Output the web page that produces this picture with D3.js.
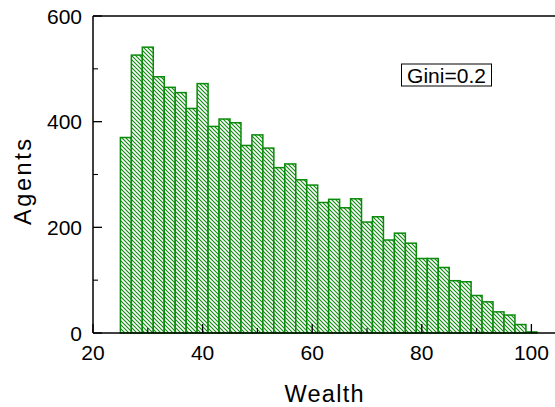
<!DOCTYPE html>
<html><head><meta charset="utf-8">
<script src="https://cdn.jsdelivr.net/npm/d3@7/dist/d3.min.js"></script>
<style>body{margin:0;background:#fff}svg{display:block}</style>
</head><body>
<script>
const binCenters = [26,28,30,32,34,36,38,40,42,44,46,48,50,52,54,56,58,60,62,64,66,68,70,72,74,76,78,80,82,84,86,88,90,92,94,96,98,100];
const agents = [370,526,541,485,465,455,425,472,391,405,398,355,375,350,313,320,290,280,247,253,237,254,210,220,176,189,170,141,141,124,99,97,71,59,40,34,16,2];
const binWidth = 2;
const xTicks = [20,40,60,80,100];
const xMinor = [30,50,70,90];
const yTicks = [0,200,400,600];
const yMinor = [100,300,500];
const giniLabel = "Gini=0.2";

const W=555,H=407;
const svg=d3.select("body").append("svg").attr("width",W).attr("height",H);
const x=d3.scaleLinear().domain([20,105]).range([93,93+85*5.48]);
const y=d3.scaleLinear().domain([0,600]).range([333,16]);
const green="#0a8a0a";

const defs=svg.append("defs");
const pat=defs.append("pattern").attr("id","hatch").attr("patternUnits","userSpaceOnUse")
  .attr("width",4).attr("height",4);
pat.append("rect").attr("width",4).attr("height",4).attr("fill","#fff");
pat.append("path").attr("d","M-1,-1L5,5M-1,3L1,5M3,-1L5,1").attr("stroke",green).attr("stroke-width",1.1);

svg.append("g").selectAll("rect").data(binCenters).join("rect")
  .attr("x",(d)=>x(d-binWidth/2))
  .attr("width",(d)=>x(d+binWidth/2)-x(d-binWidth/2))
  .attr("y",(d,i)=>y(agents[i]))
  .attr("height",(d,i)=>y(0)-y(agents[i]))
  .attr("fill","url(#hatch)").attr("stroke",green).attr("stroke-width",1.5);

const font="Arial, 'Liberation Sans', sans-serif";
// axes
const ax=svg.append("g").attr("stroke","#000").attr("fill","none");
ax.append("line").attr("x1",x(20)).attr("x2",W).attr("y1",y(0)).attr("y2",y(0)).attr("stroke-width",1.5);
ax.append("line").attr("x1",x(20)).attr("x2",W).attr("y1",y(600)).attr("y2",y(600)).attr("stroke-width",1.5);
ax.append("line").attr("x1",x(20)).attr("x2",x(20)).attr("y1",y(0)).attr("y2",y(600)).attr("stroke-width",1.5);

ax.selectAll(".xt").data(xTicks).join("line").attr("x1",d=>x(d)).attr("x2",d=>x(d)).attr("y1",y(0)).attr("y2",y(0)-9).attr("stroke-width",1.3);
ax.selectAll(".xm").data(xMinor).join("line").attr("x1",d=>x(d)).attr("x2",d=>x(d)).attr("y1",y(0)).attr("y2",y(0)-5).attr("stroke-width",1.1);
ax.selectAll(".yt").data(yTicks).join("line").attr("y1",d=>y(d)).attr("y2",d=>y(d)).attr("x1",x(20)).attr("x2",x(20)+9).attr("stroke-width",1.3);
ax.selectAll(".ym").data(yMinor).join("line").attr("y1",d=>y(d)).attr("y2",d=>y(d)).attr("x1",x(20)).attr("x2",x(20)+5).attr("stroke-width",1.1);

svg.append("g").selectAll("text").data(xTicks).join("text")
  .attr("x",d=>x(d)).attr("y",360).attr("text-anchor","middle")
  .attr("font-family",font).attr("font-size",21).text(d=>d);
svg.append("g").selectAll("text").data(yTicks).join("text")
  .attr("x",82).attr("y",d=>y(d)+7.5).attr("text-anchor","end")
  .attr("font-family",font).attr("font-size",21).text(d=>d);

svg.append("text").attr("x",324).attr("y",402).attr("text-anchor","middle")
  .attr("font-family",font).attr("font-size",23.5).attr("textLength",79).attr("lengthAdjust","spacing").text("Wealth");
svg.append("text").attr("transform","translate(31,182) rotate(-90)").attr("text-anchor","middle")
  .attr("font-family",font).attr("font-size",23.5).attr("textLength",86).attr("lengthAdjust","spacing").text("Agents");

svg.append("rect").attr("x",401.5).attr("y",64).attr("width",90).attr("height",22)
  .attr("fill","#fff").attr("stroke","#000").attr("stroke-width",1);
svg.append("text").attr("x",446.5).attr("y",82.5).attr("text-anchor","middle")
  .attr("font-family",font).attr("font-size",21).text(giniLabel);
</script>
</body></html>
